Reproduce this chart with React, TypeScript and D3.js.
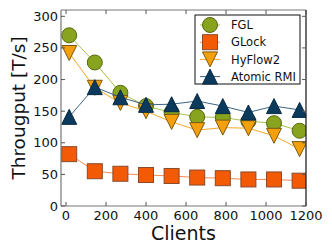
import React from "react";
import * as d3 from "d3";

const clients = [16, 144, 272, 400, 528, 656, 784, 912, 1040, 1168];
const fgl = [270, 227, 179, 158, 148, 141, 140, 134, 131, 119];
const glock = [82, 55, 51, 49, 47.5, 45, 44, 42, 42, 40];
const hyflow2 = [242, 187, 163, 150, 133, 120, 124, 123, 111, 90];
const atomicRmi = [141, 188, 172, 160, 161, 166, 158, 148, 158, 152];
const xTicks = [0, 200, 400, 600, 800, 1000, 1200];
const yTicks = [0, 50, 100, 150, 200, 250, 300];

const W = 332, H = 249;
const L = 61, R = 306, T = 10, B = 206;

const series = [
  { name: "FGL", values: fgl, fill: "#88a31d", edge: "#56680f", line: "#a9c24a", shape: "circle" },
  { name: "GLock", values: glock, fill: "#f25a06", edge: "#8a4a2a", line: "#f58a55", shape: "square" },
  { name: "HyFlow2", values: hyflow2, fill: "#f4a00c", edge: "#7a5a10", line: "#f5a828", shape: "down" },
  { name: "Atomic RMI", values: atomicRmi, fill: "#0b3a5c", edge: "#082a44", line: "#3c6585", shape: "up" },
];

function Marker({ shape, cx, cy, fill, edge, s = 7.5 }: any) {
  if (shape === "circle") return <circle cx={cx} cy={cy} r={s} fill={fill} stroke={edge} strokeWidth={1} />;
  if (shape === "square") return <rect x={cx - s} y={cy - s} width={2 * s} height={2 * s} fill={fill} stroke={edge} strokeWidth={1} />;
  if (shape === "down") return <path d={`M${cx - s},${cy - s}L${cx + s},${cy - s}L${cx},${cy + s}Z`} fill={fill} stroke={edge} strokeWidth={1} />;
  return <path d={`M${cx - s},${cy + s}L${cx + s},${cy + s}L${cx},${cy - s}Z`} fill={fill} stroke={edge} strokeWidth={1} />;
}

export default function App() {
  const x = d3.scaleLinear().domain([-25, 1200]).range([L, R]);
  const y = d3.scaleLinear().domain([0, 310]).range([B, T]);
  const font = "DejaVu Sans, sans-serif";
  const line = d3.line<number>().x((_, i) => x(clients[i])).y((v) => y(v));
  return (
    <svg width={W} height={H} style={{ position: "absolute", left: 0, top: 0, background: "#fff" }} fontFamily={font}>
      <defs>
        <clipPath id="plot">
          <rect x={L} y={T} width={R - L} height={B - T} />
        </clipPath>
      </defs>
      <g clipPath="url(#plot)">
        {series.map((s) => (
          <g key={s.name}>
            <path d={line(s.values) || ""} fill="none" stroke={s.line} strokeWidth={1} />
            {s.values.map((v, i) => (
              <Marker key={i} shape={s.shape} cx={x(clients[i])} cy={y(v)} fill={s.fill} edge={s.edge} />
            ))}
          </g>
        ))}
      </g>
      {/* spines */}
      <line x1={L} x2={L} y1={T} y2={B} stroke="#777" strokeWidth={1.2} />
      <line x1={L} x2={R} y1={B} y2={B} stroke="#777" strokeWidth={1.2} />
      <line x1={L} x2={R} y1={T} y2={T} stroke="#777" strokeWidth={1} />
      <line x1={R} x2={R} y1={T} y2={B} stroke="#111" strokeWidth={1.2} />
      {xTicks.map((t) => (
        <g key={"x" + t}>
          <line x1={x(t)} x2={x(t)} y1={B} y2={B - 4} stroke="#555" />
          <line x1={x(t)} x2={x(t)} y1={T} y2={T + 4} stroke="#555" />
          <text x={x(t)} y={B + 13.5} textAnchor="middle" fontSize={13} fill="#111">{t}</text>
        </g>
      ))}
      {yTicks.map((t) => (
        <g key={"y" + t}>
          <line x1={L} x2={L + 4} y1={y(t)} y2={y(t)} stroke="#555" />
          <line x1={R} x2={R - 4} y1={y(t)} y2={y(t)} stroke="#555" />
          <text x={L - 3} y={y(t)} dy="0.35em" textAnchor="end" fontSize={13} fill="#111">{t}</text>
        </g>
      ))}
      <text x={(L + R) / 2} y={240} textAnchor="middle" fontSize={19} fill="#111">Clients</text>
      <text transform={`translate(25,${(T + B) / 2}) rotate(-90)`} textAnchor="middle" fontSize={18.5} fill="#111">Througput [T/s]</text>
      {/* legend */}
      <rect x={195} y={15} width={105} height={69} fill="#fff" stroke="#111" strokeWidth={1} />
      {series.map((s, i) => {
        const ly = 25 + i * 17.2;
        return (
          <g key={"l" + s.name}>
            <line x1={200} x2={220} y1={ly} y2={ly} stroke={s.line} strokeWidth={1} />
            <Marker shape={s.shape} cx={210} cy={ly} fill={s.fill} edge={s.edge} />
            <text x={231} y={ly} dy="0.36em" fontSize={11.5} fill="#111">{s.name}</text>
          </g>
        );
      })}
    </svg>
  );
}
